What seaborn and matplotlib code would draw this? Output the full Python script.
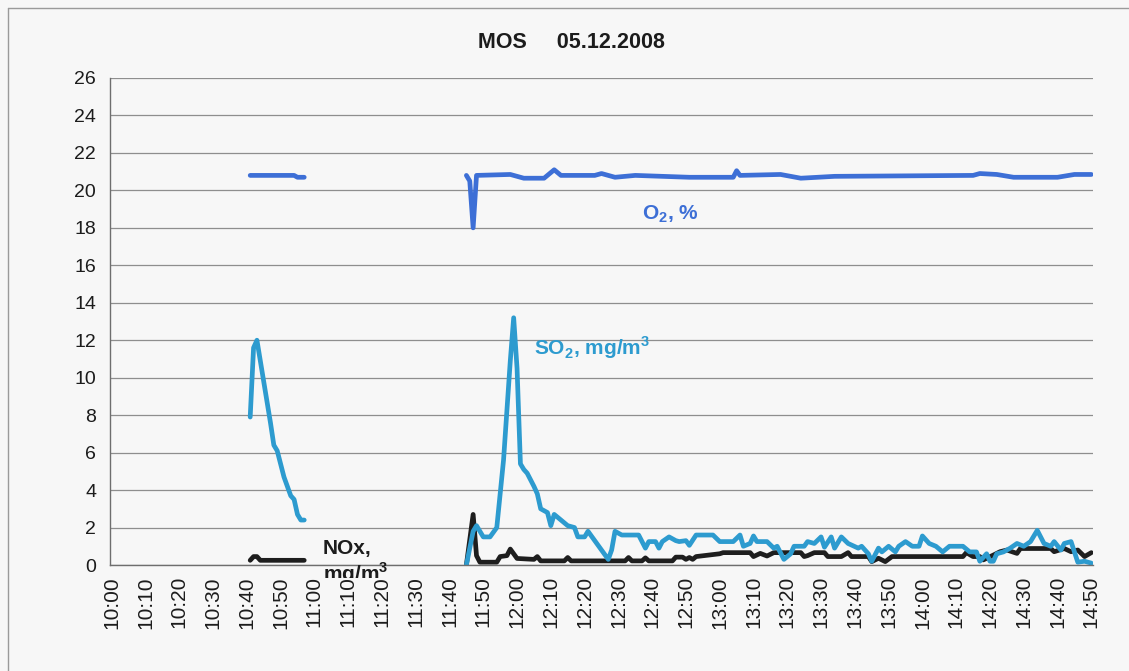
import numpy as np
import pandas as pd
import matplotlib
matplotlib.use("Agg")
import matplotlib.pyplot as plt
import seaborn as sns
from matplotlib.lines import Line2D
from matplotlib.transforms import Bbox, TransformedBbox

# ---------------------------------------------------------------------------
# Flue-gas measurements, MOS 05.12.2008 (vertices of each recorded trace)
# ---------------------------------------------------------------------------
o2_am_time = ["10:41", "10:54", "10:55", "10:57"]
o2_am = [20.8, 20.8, 20.7, 20.7]

o2_pm_time = ["11:45", "11:46", "11:47", "11:48", "11:58", "12:02", "12:08",
              "12:11", "12:13", "12:23", "12:25", "12:29", "12:35", "12:51",
              "13:04", "13:05", "13:06", "13:18", "13:24", "13:34", "14:15",
              "14:17", "14:22", "14:27", "14:40", "14:45", "14:50"]
o2_pm = [20.8, 20.5, 18.0, 20.8, 20.85, 20.65, 20.65,
         21.1, 20.8, 20.8, 20.9, 20.7, 20.8, 20.7,
         20.7, 21.05, 20.8, 20.85, 20.65, 20.75, 20.8,
         20.9, 20.85, 20.7, 20.7, 20.85, 20.85]

so2_am_time = ["10:41", "10:42", "10:43", "10:47", "10:48", "10:49", "10:51",
               "10:53", "10:54", "10:55", "10:56", "10:57"]
so2_am = [7.9, 11.6, 12.0, 7.6, 6.4, 6.1, 4.7, 3.7, 3.5, 2.7, 2.4, 2.4]

so2_pm_time = ["11:45", "11:47", "11:48", "11:50", "11:52", "11:54", "11:56",
               "11:58", "11:59", "12:00", "12:01", "12:02", "12:03", "12:05",
               "12:06", "12:07", "12:09", "12:10", "12:11", "12:13", "12:15",
               "12:17", "12:18", "12:20", "12:21", "12:23", "12:25", "12:27",
               "12:28", "12:29", "12:31", "12:36", "12:38", "12:39", "12:41",
               "12:42", "12:43", "12:45", "12:47", "12:48", "12:50", "12:51",
               "12:53", "12:58", "13:00", "13:04", "13:06", "13:07", "13:09",
               "13:10", "13:11", "13:14", "13:16", "13:17", "13:19", "13:21",
               "13:22", "13:25", "13:26", "13:28", "13:30", "13:31", "13:33",
               "13:34", "13:36", "13:38", "13:41", "13:42", "13:44", "13:45",
               "13:47", "13:48", "13:50", "13:52", "13:53", "13:55", "13:57",
               "13:59", "14:00", "14:02", "14:04", "14:06", "14:08", "14:12",
               "14:14", "14:16", "14:17", "14:19", "14:20", "14:21", "14:22",
               "14:24", "14:26", "14:28", "14:30", "14:32", "14:34", "14:36",
               "14:38", "14:39", "14:41", "14:42", "14:44", "14:45", "14:46",
               "14:48", "14:50"]
so2_pm = [0.0, 1.8, 2.1, 1.5, 1.5, 2.0, 5.6,
          10.9, 13.2, 10.5, 5.4, 5.1, 4.9, 4.2,
          3.8, 3.0, 2.8, 2.1, 2.7, 2.4, 2.1,
          2.0, 1.5, 1.5, 1.8, 1.3, 0.8, 0.3,
          0.8, 1.8, 1.6, 1.6, 0.9, 1.25, 1.25,
          0.9, 1.25, 1.5, 1.3, 1.25, 1.3, 1.05,
          1.6, 1.6, 1.25, 1.25, 1.6, 1.0, 1.15,
          1.55, 1.25, 1.25, 0.9, 1.0, 0.3, 0.6,
          1.0, 1.0, 1.25, 1.15, 1.5, 0.95, 1.5,
          0.9, 1.5, 1.15, 0.9, 1.0, 0.6, 0.2,
          0.9, 0.7, 1.0, 0.7, 1.0, 1.25, 1.0,
          1.0, 1.55, 1.15, 1.0, 0.7, 1.0, 1.0,
          0.7, 0.7, 0.2, 0.6, 0.2, 0.2, 0.6,
          0.7, 0.9, 1.15, 1.0, 1.25, 1.85, 1.15,
          1.0, 1.25, 0.8, 1.15, 1.25, 0.7, 0.15,
          0.2, 0.1]

nox_am_time = ["10:41", "10:42", "10:43", "10:44", "10:57"]
nox_am = [0.25, 0.45, 0.45, 0.25, 0.25]

nox_pm_time = ["11:45", "11:47", "11:48", "11:49", "11:54", "11:55", "11:57",
               "11:58", "12:00", "12:05", "12:06", "12:07", "12:14", "12:15",
               "12:16", "12:32", "12:33", "12:34", "12:37", "12:38", "12:39",
               "12:46", "12:47", "12:49", "12:50", "12:51", "12:52", "12:53",
               "13:00", "13:01", "13:09", "13:10", "13:12", "13:14", "13:16",
               "13:24", "13:25", "13:26", "13:28", "13:31", "13:32", "13:36",
               "13:38", "13:39", "13:44", "13:45", "13:47", "13:49", "13:51",
               "14:12", "14:13", "14:15", "14:17", "14:18", "14:21", "14:23",
               "14:25", "14:28", "14:29", "14:32", "14:38", "14:39", "14:42",
               "14:44", "14:46", "14:48", "14:50"]
nox_pm = [0.0, 2.7, 0.5, 0.15, 0.15, 0.45, 0.5,
          0.85, 0.35, 0.3, 0.45, 0.22, 0.22, 0.4,
          0.22, 0.22, 0.4, 0.22, 0.22, 0.38, 0.22,
          0.22, 0.42, 0.42, 0.3, 0.4, 0.3, 0.45,
          0.6, 0.66, 0.66, 0.45, 0.62, 0.48, 0.66,
          0.66, 0.45, 0.5, 0.66, 0.66, 0.45, 0.45,
          0.66, 0.45, 0.45, 0.18, 0.36, 0.18, 0.45,
          0.45, 0.66, 0.45, 0.45, 0.27, 0.53, 0.71,
          0.8, 0.62, 0.88, 0.88, 0.88, 0.71, 0.88,
          0.71, 0.8, 0.45, 0.66]

time_labels = ["10:00", "10:10", "10:20", "10:30", "10:40", "10:50", "11:00",
               "11:10", "11:20", "11:30", "11:40", "11:50", "12:00", "12:10",
               "12:20", "12:30", "12:40", "12:50", "13:00", "13:10", "13:20",
               "13:30", "13:40", "13:50", "14:00", "14:10", "14:20", "14:30",
               "14:40", "14:50"]
y_ticks = [0, 2, 4, 6, 8, 10, 12, 14, 16, 18, 20, 22, 24, 26]

series_order = ["O2", "NOx", "SO2"]
series_colors = {"O2": "#3d6fd6", "SO2": "#2d9bcf", "NOx": "#1e1e1e"}


def to_minutes(times):
    t = pd.to_datetime(times, format="%H:%M")
    return (t.hour - 10) * 60 + t.minute


def segment(times, values, series, seg):
    return pd.DataFrame({"minute": to_minutes(times), "value": values,
                         "series": series, "segment": seg})


df = pd.concat([
    segment(o2_am_time, o2_am, "O2", "am"),
    segment(o2_pm_time, o2_pm, "O2", "pm"),
    segment(nox_am_time, nox_am, "NOx", "am"),
    segment(nox_pm_time, nox_pm, "NOx", "pm"),
    segment(so2_am_time, so2_am, "SO2", "am"),
    segment(so2_pm_time, so2_pm, "SO2", "pm"),
], ignore_index=True)

# ---------------------------------------------------------------------------
# Styling
# ---------------------------------------------------------------------------
BG = "#f7f7f7"
GRID = "#8e8e8e"
TEXT = "#1c1c1c"

sns.set_style("white")
plt.rcParams["font.family"] = ["Liberation Sans", "DejaVu Sans"]
plt.rcParams["mathtext.fontset"] = "custom"
plt.rcParams["mathtext.rm"] = "Liberation Sans"
plt.rcParams["mathtext.bf"] = "Liberation Sans:bold"
plt.rcParams["lines.solid_joinstyle"] = "round"
plt.rcParams["lines.solid_capstyle"] = "round"

W, H = 1129, 671
fig = plt.figure(figsize=(W / 100, H / 100), dpi=100, facecolor=BG)
ax = fig.add_axes([110 / W, 106 / H, 983 / W, 487 / H], facecolor=BG)

sns.lineplot(data=df, x="minute", y="value", hue="series", units="segment",
             estimator=None, sort=False, hue_order=series_order,
             palette=series_colors, linewidth=3.4, legend=False, ax=ax)

# axes ranges and ticks
ax.set_xlim(-0.5, 290.5)
ax.set_ylim(0, 26)
ax.set_xlabel("")
ax.set_ylabel("")

ax.set_xticks(np.arange(0, 291, 10))
ax.set_xticklabels(time_labels)
ax.set_xticks(np.arange(-0.5, 291, 5), minor=True)
ax.tick_params(axis="x", which="major", length=0, pad=8, rotation=90,
               labelsize=15, labelcolor=TEXT)
ax.tick_params(axis="x", which="minor", length=4, width=0.9, color="#6e6e6e",
               direction="out")

ax.set_yticks(y_ticks)
ax.tick_params(axis="y", which="major", length=4, width=0.9, color="#6e6e6e",
               direction="out", pad=6, labelsize=14, labelcolor=TEXT)

ax.yaxis.grid(True, color=GRID, linewidth=0.9)
ax.xaxis.grid(False)
ax.set_axisbelow(True)
for side in ("top", "right"):
    ax.spines[side].set_visible(False)
for side in ("left", "bottom"):
    ax.spines[side].set_color("#6e6e6e")
    ax.spines[side].set_linewidth(1.0)

# series labels
ax.text(157, 18.45, r"O$_\mathbf{2}$, %", color=series_colors["O2"],
        fontsize=15, fontweight="bold", ha="left", va="baseline")
ax.text(125, 11.2, r"SO$_\mathbf{2}$, mg/m$^\mathbf{3}$",
        color=series_colors["SO2"], fontsize=15, fontweight="bold",
        ha="left", va="baseline")
# the NOx caption's unit line runs below the plot floor and is cut off there
nox_label = ax.text(62.5, -0.85, "NOx,\nmg/m$^\\mathbf{3}$", color=TEXT,
                    fontsize=15, fontweight="bold", ha="left", va="baseline",
                    linespacing=1.1)
nox_label.set_clip_on(True)
nox_label.set_clip_box(TransformedBbox(Bbox([[0, 93 / H], [1, 1]]),
                                       fig.transFigure))

# title
fig.text(571 / W, 1 - 42 / H, "MOS     05.12.2008", ha="center", va="center",
         fontsize=15.5, fontweight="bold", color=TEXT)

# outer chart border
fig.add_artist(Line2D([8 / W, 1], [1 - 8 / H, 1 - 8 / H],
                      transform=fig.transFigure, color="#9a9a9a", lw=1.0))
fig.add_artist(Line2D([8 / W, 8 / W], [0, 1 - 8 / H],
                      transform=fig.transFigure, color="#9a9a9a", lw=1.0))

fig.savefig("out.png", dpi=100, facecolor=BG)
